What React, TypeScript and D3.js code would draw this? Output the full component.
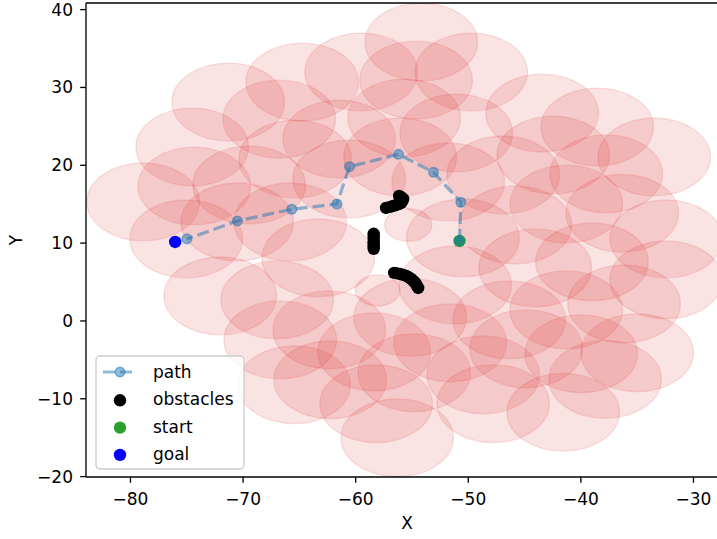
import React from "react";
import * as d3 from "d3";

// Free-space discs (data units): centre x, centre y, radius
const discX = [
  -54.18, -59.51, -54.63, -49.74, -64.75, -71.32, -66.79, -55.69, -51.07, -61.47,
  -43.44, -38.55, -33.49, -74.52, -65.37, -60.58, -56.05, -51.78, -46.9, -42.46,
  -37.75, -78.87, -74.34, -69.46, -41.3, -36.33, -32.42, -75.05, -70.52, -65.82,
  -63.33, -50.47, -45.83, -72.03, -66.97, -66.7, -65.46, -62.35, -62.26, -56.31,
  -58.18, -54.8, -51.61, -48.68, -46.37, -55.16, -58.36, -44.86, -47.79, -41.57,
  -37.84, -35.0, -39.97, -41.3, -36.16, -39.02, -32.42, -44.06, -51.17, -55.34,
  -58.05,
];
const discY = [
  35.83, 31.98, 30.95, 31.98, 30.69, 28.13, 25.94, 26.07, 24.15, 23.38,
  26.71, 24.92, 21.07, 22.35, 20.81, 18.24, 21.07, 17.86, 18.76, 21.32,
  18.9, 15.29, 17.34, 17.47, 15.03, 13.84, 10.54, 10.54, 12.72, 12.72,
  8.1, 10.67, 12.34, 3.22, 2.71, -2.43, -8.2, -1.14, -7.56, -15.01,
  -10.64, -6.66, -2.81, -6.92, 0.14, 0.46, -3.97, -3.58, -10.62, -11.73,
  -7.5, -4.09, -4.22, 1.43, 2.19, 7.59, 5.28, 6.82, 4.63, 12.34,
  3.93,
];
const discR = [
  5, 5, 5, 5, 5, 5, 5, 5, 5, 5,
  5, 5, 5, 5, 5, 5, 5, 5, 5, 5,
  5, 5, 5, 5, 5, 5, 5, 5, 5, 5,
  5, 5, 5, 5, 5, 5, 5, 5, 5, 5,
  5, 5, 5, 5, 5, 5, 5, 5, 5, 5,
  5, 5, 5, 5, 5, 5, 5, 5, 5, 2.1,
  2.0,
];

// Obstacle samples
const obstacleX = [
  -56.14, -55.95, -55.78, -55.85, -55.96, -56.18, -56.4, -56.67, -56.94, -57.3,
  -58.4, -58.4, -58.4, -58.4, -58.4, -58.4, -58.4,
  -56.58, -56.32, -56.05, -55.78, -55.51, -55.28, -55.07, -54.88, -54.71, -54.57, -54.45,
];
const obstacleY = [
  16.06, 15.9, 15.67, 15.42, 15.16, 15.02, 14.9, 14.78, 14.65, 14.52,
  11.2, 10.9, 10.55, 10.2, 9.9, 9.6, 9.26,
  6.17, 6.11, 6.04, 5.92, 5.78, 5.6, 5.4, 5.15, 4.88, 4.55, 4.24,
];

const startPt = [-50.78, 10.28];
const goalPt = [-76.03, 10.15];

// Planned path, from start towards goal
const pathX = [-50.78, -50.66, -53.09, -56.2, -60.55, -61.67, -65.67, -70.5, -74.99];
const pathY = [10.28, 15.25, 19.1, 21.41, 19.82, 15.03, 14.35, 12.85, 10.54];

const xTicks = [-80, -70, -60, -50, -40, -30];
const yTicks = [-20, -10, 0, 10, 20, 30, 40];
const legendLabels = ["path", "obstacles", "start", "goal"];

const W = 717;
const H = 539;
const plotLeft = 86;
const plotTop = 3;
const plotBottom = 477;

const FONT = "'DejaVu Sans', sans-serif";
const FS = 17;
const LW = 1.33;
const TICK = 5.8;
const RED = "#d62728";
const BLUE = "#1f77b4";
const GREEN = "#2ca02c";
const DASH = "12 5";

const fmt = (v: number) => (v < 0 ? "\u2212" + Math.abs(v) : String(v));

export default function App() {
  const x = d3.scaleLinear().domain([-83.95, -26]).range([plotLeft, plotLeft + 57.95 * 11.26]);
  const y = d3.scaleLinear().domain([-20.05, 40.85]).range([plotBottom, plotTop]);
  const plotRight = x(-26);

  const line = d3
    .line<number>()
    .x((_, i) => x(pathX[i]))
    .y((_, i) => y(pathY[i]));

  const legendX = 96;
  const legendY = 356;
  const rowY = (i: number) => 372 + i * 27.3;

  return (
    <div style={{ position: "absolute", left: 0, top: 0 }}>
      <svg width={W} height={H} style={{ display: "block", background: "#fff" }}>
        <defs>
          <clipPath id="plotClip">
            <rect x={plotLeft} y={plotTop} width={plotRight - plotLeft} height={plotBottom - plotTop} />
          </clipPath>
        </defs>

        <g clipPath="url(#plotClip)">
          {discX.map((cx, i) => (
            <ellipse
              key={"d" + i}
              cx={x(cx)}
              cy={y(discY[i])}
              rx={x(cx + discR[i]) - x(cx)}
              ry={y(discY[i]) - y(discY[i] + discR[i])}
              fill={RED}
              fillOpacity={0.13}
              stroke={RED}
              strokeOpacity={0.13}
              strokeWidth={LW}
            />
          ))}

          {obstacleX.map((ox, i) => (
            <circle key={"o" + i} cx={x(ox)} cy={y(obstacleY[i])} r={6.2} fill="#000" />
          ))}

          <circle cx={x(startPt[0])} cy={y(startPt[1])} r={6.2} fill={GREEN} />
          <circle cx={x(goalPt[0])} cy={y(goalPt[1])} r={6.2} fill="#0000ff" />

          <path
            d={line(pathX) || ""}
            fill="none"
            stroke={BLUE}
            strokeOpacity={0.5}
            strokeWidth={3.2}
            strokeDasharray={DASH}
          />
          {pathX.map((px, i) => (
            <circle
              key={"p" + i}
              cx={x(px)}
              cy={y(pathY[i])}
              r={4.8}
              fill={BLUE}
              fillOpacity={0.5}
              stroke={BLUE}
              strokeOpacity={0.5}
              strokeWidth={1.5}
            />
          ))}
        </g>

        {/* spines */}
        <line x1={plotLeft} x2={plotLeft} y1={plotTop} y2={plotBottom} stroke="#000" strokeWidth={LW} />
        <line x1={plotLeft} x2={plotRight} y1={plotBottom} y2={plotBottom} stroke="#000" strokeWidth={LW} />
        <line x1={plotLeft} x2={plotRight} y1={plotTop} y2={plotTop} stroke="#000" strokeWidth={LW} />

        {/* x axis */}
        {xTicks.map((t) => (
          <g key={"xt" + t}>
            <line x1={x(t)} x2={x(t)} y1={plotBottom} y2={plotBottom + TICK} stroke="#000" strokeWidth={LW} />
            <text x={x(t)} y={505} textAnchor="middle" fontFamily={FONT} fontSize={FS} fill="#000">
              {fmt(t)}
            </text>
          </g>
        ))}
        <text x={407} y={529} textAnchor="middle" fontFamily={FONT} fontSize={FS} fill="#000">
          X
        </text>

        {/* y axis */}
        {yTicks.map((t) => (
          <g key={"yt" + t}>
            <line x1={plotLeft - TICK} x2={plotLeft} y1={y(t)} y2={y(t)} stroke="#000" strokeWidth={LW} />
            <text x={73} y={y(t) + 6} textAnchor="end" fontFamily={FONT} fontSize={FS} fill="#000">
              {fmt(t)}
            </text>
          </g>
        ))}
        <text
          transform={`translate(21.6, 240) rotate(-90)`}
          textAnchor="middle"
          fontFamily={FONT}
          fontSize={FS}
          fill="#000"
        >
          Y
        </text>

        {/* legend */}
        <rect
          x={legendX}
          y={legendY}
          width={148}
          height={113}
          rx={4}
          fill="#fff"
          fillOpacity={0.8}
          stroke="#cccccc"
          strokeWidth={LW}
        />
        {legendLabels.map((lab, i) => {
          const cy = rowY(i);
          let marker: React.ReactNode;
          if (i === 0) {
            marker = (
              <g>
                <line x1={103} x2={137} y1={cy} y2={cy} stroke={BLUE} strokeOpacity={0.5} strokeWidth={3.2} strokeDasharray={DASH} />
                <circle cx={120} cy={cy} r={4.8} fill={BLUE} fillOpacity={0.5} stroke={BLUE} strokeOpacity={0.5} strokeWidth={1.5} />
              </g>
            );
          } else {
            const col = i === 1 ? "#000" : i === 2 ? GREEN : "#0000ff";
            marker = <circle cx={120} cy={cy + 1} r={6.2} fill={col} />;
          }
          return (
            <g key={"lg" + i}>
              {marker}
              <text x={153} y={cy + 6} fontFamily={FONT} fontSize={FS} fill="#000">
                {lab}
              </text>
            </g>
          );
        })}
      </svg>
    </div>
  );
}
